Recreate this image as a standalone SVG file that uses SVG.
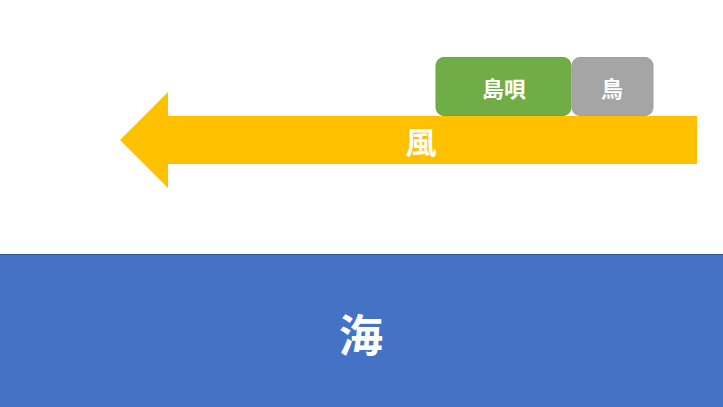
<svg xmlns="http://www.w3.org/2000/svg" width="723" height="407" viewBox="0 0 723 407">
<style>
.t{font-family:"Noto Sans CJK JP","Noto Sans CJK SC",sans-serif;font-weight:bold;fill:#fff;text-anchor:middle;dominant-baseline:central}
</style>
<rect width="723" height="407" fill="#fff"/>
<g id="sea">
<rect x="0" y="254" width="723" height="153" fill="#4472C4"/>
<line x1="0" y1="254.5" x2="723" y2="254.5" stroke="#2F5597" stroke-width="1"/>
<text class="t" x="361" y="333" font-size="44">海</text>
</g>
<g id="wind">
<polygon points="120,140 168,92 168,116 697,116 697,164 168,164 168,188" fill="#FFC000"/>
<text class="t" x="421" y="140" font-size="31">風</text>
</g>
<g id="shimauta">
<rect x="436" y="57.5" width="135" height="58" rx="8" fill="#70AD47" stroke="#6AA443"/>
<text class="t" x="504" y="87" font-size="22">島唄</text>
</g>
<g id="tori">
<rect x="572" y="57.5" width="81" height="58" rx="8" fill="#A5A5A5" stroke="#9E9E9E"/>
<text class="t" x="612" y="87" font-size="22">鳥</text>
</g>
<g id="connectors"></g>
</svg>
